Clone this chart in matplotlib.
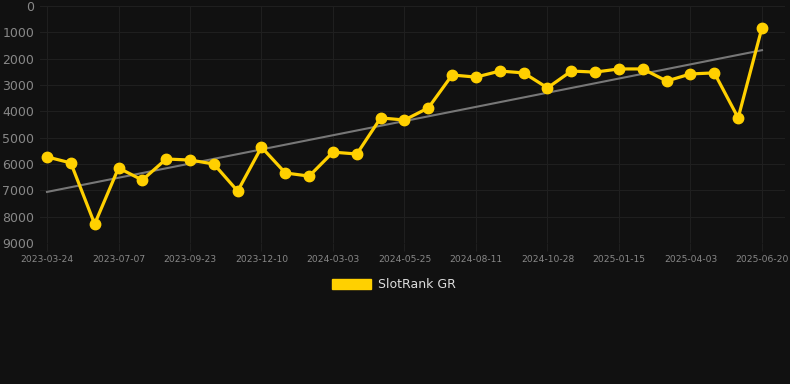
import matplotlib
matplotlib.use("Agg")
import matplotlib.pyplot as plt
import numpy as np

# rank values (lower is better, axis inverted)
ranks = [5730, 5960, 8280, 6150, 6610, 5810, 5850, 6000, 7030, 5360,
         6340, 6460, 5550, 5620, 4250, 4330, 3870, 2620, 2700, 2470,
         2540, 3110, 2470, 2510, 2390, 2390, 2850, 2580, 2540, 4250, 820]
tick_labels = ["2023-03-24", "2023-07-07", "2023-09-23", "2023-12-10",
               "2024-03-03", "2024-05-25", "2024-08-11", "2024-10-28",
               "2025-01-15", "2025-04-03", "2025-06-20"]
series_name = "SlotRank GR"

bg = "#111111"
yellow = "#ffd000"

x = np.arange(len(ranks))
slope, icpt = np.polyfit(x, ranks, 1)
trend = slope * x + icpt

fig = plt.figure(figsize=(7.9, 3.84), dpi=100, facecolor=bg)
ax = fig.add_axes([40/790, 1 - 243/384, 745/790, 237/384])
ax.set_facecolor(bg)

ax.plot(x[[0, -1]], trend[[0, -1]], color="#777777", lw=1.5, zorder=2)
ax.plot(x, ranks, color=yellow, lw=2.3, marker="o", ms=7.5, zorder=3)

ax.set_ylim(9000, 0)
ax.set_xlim(-7/23.83, len(ranks) - 1 + 23/23.83)
ax.set_yticks(np.arange(0, 9001, 1000))
ax.set_xticks(x[::3])
ax.set_xticklabels(tick_labels)

ax.grid(True, color="#1f1f1f", lw=0.8)
ax.set_axisbelow(True)
for s in ax.spines.values():
    s.set_visible(False)
ax.tick_params(axis="y", length=0, labelsize=9, labelcolor="#888888", pad=4)
ax.tick_params(axis="x", length=6, color="#1f1f1f", labelsize=6.6, labelcolor="#888888", pad=3)

# legend as a box below the chart
fig.patches.append(plt.Rectangle((332/790, 1 - 289/384), 39/790, 10/384,
                                 transform=fig.transFigure, color=yellow))
fig.text(378/790, 1 - 284/384, series_name, color="#dddddd", fontsize=9, va="center")

fig.savefig("out.png", dpi=100, facecolor=bg)
